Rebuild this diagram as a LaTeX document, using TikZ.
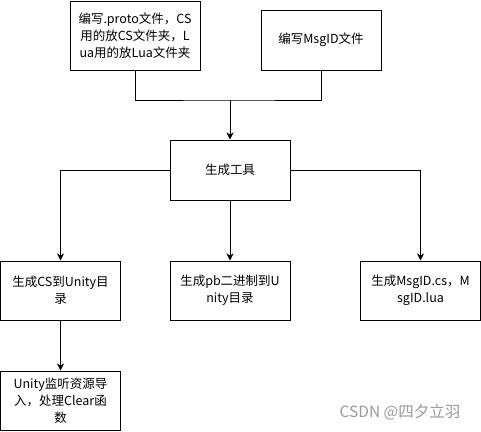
\documentclass[tikz,border=0pt]{standalone}
\usepackage{fontspec}
\setmainfont{Noto Sans CJK SC}
\usetikzlibrary{arrows.meta}

\tikzset{
    box/.style={draw, line width=1pt, inner sep=0pt, align=center,
        minimum width=120pt, minimum height=59pt,
        font=\fontsize{12.5pt}{17pt}\selectfont},
    flow/.style={line width=1pt, -{Stealth[length=7pt,width=7pt,inset=2pt]}}
}

\begin{document}
\begin{tikzpicture}[x=1pt,y=-1pt]
    \useasboundingbox (0,0) rectangle (481,431);
    \node[box, minimum width=130pt, minimum height=69pt] (proto) at (135,35.5) {编写.proto文件，CS\\用的放CS文件夹，L\\ua用的放Lua文件夹};
    \node[box, minimum height=60pt] (msgid) at (321,40) {编写MsgID文件};
    \coordinate (join) at (230,100);
    \node[box, minimum height=60pt] (gen) at (230,170) {生成工具};
    \node[box] (cs) at (60.5,290.5) {生成CS到Unity目\\录};
    \node[box] (pb) at (230,290.5) {生成pb二进制到U\\nity目录};
    \node[box] (lua) at (420.5,290.5) {生成MsgID.cs，M\\sgID.lua};
    \node[box] (unity) at (60.5,400.5) {Unity监听资源导\\入，处理Clear函\\数};
    \node[text=gray!80, font=\fontsize{15.5pt}{18pt}\selectfont] (mark) at (400,412) {CSDN @四夕立羽};
    \draw[line width=1pt] (proto.south) |- (join) -| (msgid.south);
    \draw[flow] (join) -- (gen.north);
    \draw[flow] (gen.west) -| (cs.north);
    \draw[flow] (gen.south) -- (pb.north);
    \draw[flow] (gen.east) -| (lua.north);
    \draw[flow] (cs.south) -- (unity.north);
\end{tikzpicture}
\end{document}
